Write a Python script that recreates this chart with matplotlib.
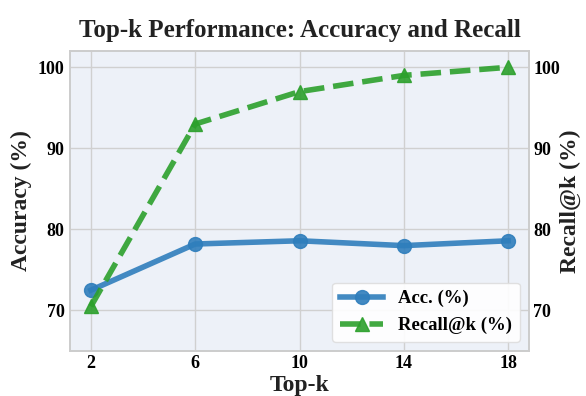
import matplotlib.pyplot as plt

# Data
top_k = [2, 6, 10, 14, 18]
accuracy = [72.5, 78.2, 78.6, 78.0, 78.6]
recall = [70.5, 93.0, 97.0, 99.0, 100.0]
y_ticks = [70, 80, 90, 100]

plt.rcParams['font.family'] = ['Liberation Serif', 'DejaVu Serif']
plt.rcParams['font.weight'] = 'bold'

fig, ax1 = plt.subplots(figsize=(5.86, 3.96), dpi=100)
ax1.set_facecolor("#edf1f8")
ax1.grid(True, color="#d0d0d0", linewidth=1.0)
ax1.set_axisbelow(True)

ax2 = ax1.twinx()

l1, = ax1.plot(top_k, accuracy, "o-", color="#2f7ebc", alpha=0.9,
               linewidth=4, markersize=10, label="Acc. (%)")
l2, = ax2.plot(top_k, recall, "^--", color="#2ca02c", alpha=0.9,
               linewidth=4, markersize=10, label="Recall@k (%)")

for ax in (ax1, ax2):
    ax.set_ylim(65, 102)
    ax.set_yticks(y_ticks)
    ax.tick_params(labelsize=13, length=0, pad=4)
    for s in ax.spines.values():
        s.set_color("#cccccc")
        s.set_linewidth(1.2)
    for lab in ax.get_yticklabels():
        lab.set_fontweight("bold")
ax2.tick_params(pad=3)

ax1.set_xticks(top_k)
ax1.tick_params(axis="x", pad=3)
for lab in ax1.get_xticklabels():
    lab.set_fontweight("bold")

ax1.set_xlabel("Top-k", fontsize=17, fontweight="bold", color="#222222", labelpad=2)
ax1.set_ylabel("Accuracy (%)", fontsize=17, fontweight="bold", color="#222222")
ax2.set_ylabel("Recall@k (%)", fontsize=17, fontweight="bold", color="#222222", labelpad=0)
ax1.set_title("Top-k Performance: Accuracy and Recall", fontsize=18,
              fontweight="bold", color="#222222", pad=10)

leg = ax2.legend(handles=[l1, l2], loc="lower right", fontsize=13.5,
                 frameon=True, facecolor="white", edgecolor="#dddddd",
                 framealpha=0.9, fancybox=True, handlelength=2.3)
for t in leg.get_texts():
    t.set_fontweight("bold")

fig.subplots_adjust(left=0.1195, right=0.9027, top=0.871, bottom=0.1136)
fig.savefig("out.png", dpi=100)
